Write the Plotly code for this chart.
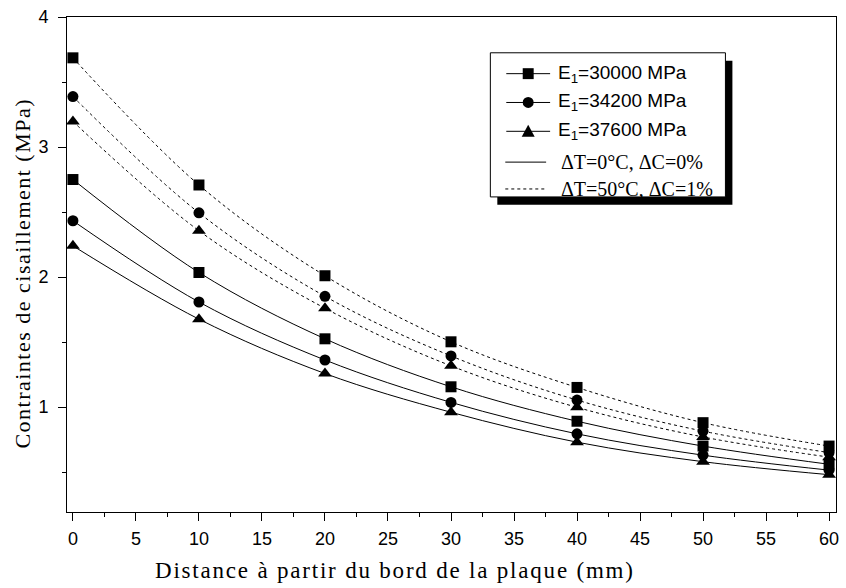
import plotly.graph_objects as go

# ---- data ----
distance = [0, 10, 20, 30, 40, 50, 60]
series_names = ["E<sub>1</sub>=30000 MPa", "E<sub>1</sub>=34200 MPa", "E<sub>1</sub>=37600 MPa"]
symbols = ["square", "circle", "triangle-up"]
cond_labels = ["ΔT=0°C, ΔC=0%", "ΔT=50°C, ΔC=1%"]

# ΔT=0°C, ΔC=0%  (solid)
tau_ref_30000 = [2.75, 2.035, 1.525, 1.156, 0.891, 0.70, 0.56]
tau_ref_34200 = [2.433, 1.808, 1.362, 1.036, 0.794, 0.63, 0.515]
tau_ref_37600 = [2.24, 1.676, 1.258, 0.96, 0.73, 0.58, 0.48]
# ΔT=50°C, ΔC=1%  (dotted)
tau_hyg_30000 = [3.686, 2.708, 2.01, 1.502, 1.151, 0.88, 0.70]
tau_hyg_34200 = [3.388, 2.494, 1.852, 1.393, 1.054, 0.815, 0.65]
tau_hyg_37600 = [3.197, 2.356, 1.76, 1.317, 0.998, 0.77, 0.615]

x_title = "Distance à partir du bord de la plaque (mm)"
y_title = "Contraintes de cisaillement (MPa)"

solid_sets = [tau_ref_30000, tau_ref_34200, tau_ref_37600]
dotted_sets = [tau_hyg_30000, tau_hyg_34200, tau_hyg_37600]

W, H = 846, 588
L, R, T, B = 67, 7, 14, 76
pw, ph = W - L - R, H - T - B


def px2x(px):
    return (px - L) / pw


def py2y(py):
    return (H - B - py) / ph


DOT = "3px,3px"
SERIF = "Liberation Serif"
SANS = "Liberation Sans"

fig = go.Figure()
for sym, ys in zip(symbols, dotted_sets):
    fig.add_trace(go.Scatter(x=distance, y=ys, mode="lines+markers",
                             line=dict(color="black", width=1, dash=DOT, shape="spline"),
                             marker=dict(symbol=sym, size=12 if sym.startswith("tri") else 11, color="black"),
                             showlegend=False, cliponaxis=False, hoverinfo="skip"))
for sym, ys in zip(symbols, solid_sets):
    fig.add_trace(go.Scatter(x=distance, y=ys, mode="lines+markers",
                             line=dict(color="black", width=1, shape="spline"),
                             marker=dict(symbol=sym, size=12 if sym.startswith("tri") else 11, color="black"),
                             showlegend=False, cliponaxis=False, hoverinfo="skip"))

shapes = []
annotations = []

# ---- legend box with drop shadow (drawn by hand) ----
bx0, by0, bx1, by1 = 492, 50, 728, 195
shapes.append(dict(type="rect", xref="paper", yref="paper",
                   x0=px2x(bx0 + 7), x1=px2x(bx1 + 7), y0=py2y(by1 + 8), y1=py2y(by0 + 8),
                   fillcolor="black", line=dict(width=0), layer="above"))
shapes.append(dict(type="rect", xref="paper", yref="paper",
                   x0=px2x(bx0), x1=px2x(bx1), y0=py2y(by1), y1=py2y(by0),
                   fillcolor="white", line=dict(color="black", width=1), layer="above"))

row_y = [71, 100, 129, 160, 187]
for i, (name, sym) in enumerate(zip(series_names, symbols)):
    yy = row_y[i]
    shapes.append(dict(type="line", xref="paper", yref="paper",
                       x0=px2x(508), x1=px2x(552), y0=py2y(yy), y1=py2y(yy),
                       line=dict(color="black", width=1), layer="above"))
    cx, s = 530, 5.5
    if sym == "square":
        shapes.append(dict(type="rect", xref="paper", yref="paper",
                           x0=px2x(cx - s), x1=px2x(cx + s), y0=py2y(yy + s), y1=py2y(yy - s),
                           fillcolor="black", line=dict(width=0), layer="above"))
    elif sym == "circle":
        shapes.append(dict(type="circle", xref="paper", yref="paper",
                           x0=px2x(cx - s), x1=px2x(cx + s), y0=py2y(yy + s), y1=py2y(yy - s),
                           fillcolor="black", line=dict(width=0), layer="above"))
    else:
        path = "M %f %f L %f %f L %f %f Z" % (px2x(cx - 6.5), py2y(yy + 5.5), px2x(cx + 6.5), py2y(yy + 5.5),
                                             px2x(cx), py2y(yy - 6.5))
        shapes.append(dict(type="path", xref="paper", yref="paper", path=path,
                           fillcolor="black", line=dict(width=0), layer="above"))
    annotations.append(dict(xref="paper", yref="paper", x=px2x(558), y=py2y(yy), xanchor="left",
                            yanchor="middle", showarrow=False, text=name,
                            font=dict(family=SANS, size=19, color="black")))

for j, (lab, dash) in enumerate(zip(cond_labels, ["solid", DOT])):
    yy = row_y[3 + j]
    shapes.append(dict(type="line", xref="paper", yref="paper",
                       x0=px2x(507), x1=px2x(548), y0=py2y(yy), y1=py2y(yy),
                       line=dict(color="black", width=1, dash=dash), layer="above"))
    annotations.append(dict(xref="paper", yref="paper", x=px2x(561), y=py2y(yy), xanchor="left",
                            yanchor="middle", showarrow=False, text=lab,
                            font=dict(family=SERIF, size=20, color="black")))

# ---- axis titles ----
annotations.append(dict(xref="paper", yref="paper", x=px2x(396), y=py2y(571), xanchor="center",
                        yanchor="middle", showarrow=False,
                        text='<span style="letter-spacing:1.8px">%s</span>' % x_title,
                        font=dict(family=SERIF, size=23, color="black")))
annotations.append(dict(xref="paper", yref="paper", x=px2x(22), y=py2y(272), xanchor="center",
                        yanchor="middle", showarrow=False, textangle=-90,
                        text='<span style="letter-spacing:1.5px">%s</span>' % y_title,
                        font=dict(family=SERIF, size=22, color="black")))

fig.update_layout(
    width=W, height=H,
    margin=dict(l=L, r=R, t=T, b=B),
    paper_bgcolor="white", plot_bgcolor="white",
    font=dict(family=SANS, size=18, color="black"),
    showlegend=False, hovermode=False,
    shapes=shapes, annotations=annotations,
    xaxis=dict(range=[-0.47, 60.55], tickmode="linear", tick0=0, dtick=5,
               showline=True, linecolor="black", linewidth=1, mirror=True,
               ticks="outside", ticklen=8, tickwidth=1, tickcolor="black", ticklabelstandoff=2,
               minor=dict(dtick=2.5, ticks="outside", ticklen=4, tickwidth=1, tickcolor="black"),
               showgrid=False, zeroline=False),
    yaxis=dict(range=[0.193, 4.0], tickmode="linear", tick0=0, dtick=1,
               showline=True, linecolor="black", linewidth=1, mirror=True,
               ticks="outside", ticklen=8, tickwidth=1, tickcolor="black", ticklabelstandoff=6,
               minor=dict(dtick=0.5, ticks="outside", ticklen=4, tickwidth=1, tickcolor="black"),
               showgrid=False, zeroline=False),
)

fig.write_html("out.html", config=dict(displayModeBar=False, staticPlot=True),
               post_script="document.body.style.margin='0';")
